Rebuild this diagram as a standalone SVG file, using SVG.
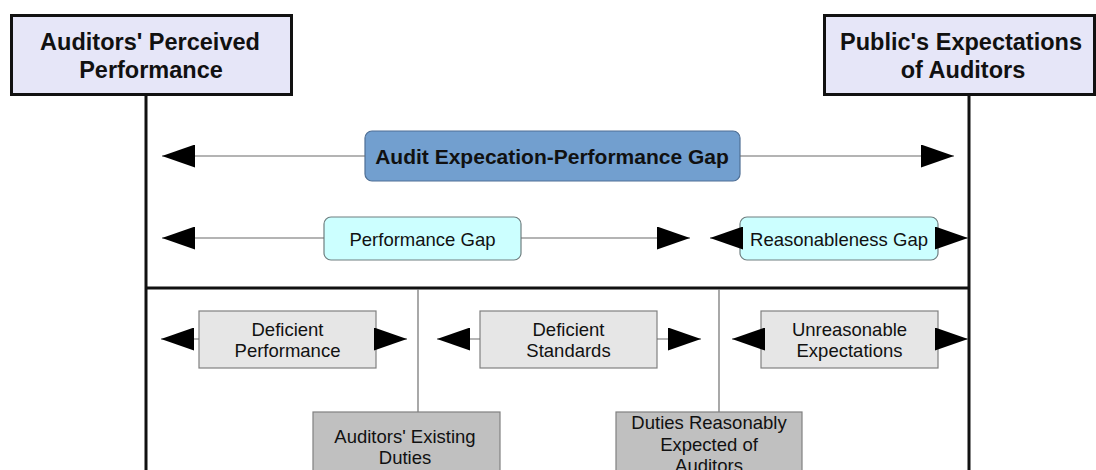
<svg xmlns="http://www.w3.org/2000/svg" width="1096" height="470" viewBox="0 0 1096 470">
<style>
text{font-family:"Liberation Sans",Arial,sans-serif;fill:#111;text-anchor:middle}
.title{font-size:23.5px;font-weight:bold}
.main{font-size:21px;font-weight:bold}
.lbl{font-size:18.5px}
.head{fill:#e6e6f8;stroke:#111;stroke-width:3}
.frame{stroke:#111;stroke-width:3;fill:none}
.div{stroke:#7a7a7a;stroke-width:1.3}
.conn{stroke:#6a6a6a;stroke-width:1.1;fill:none;marker-end:url(#ah)}
.gap{fill:#ccffff;stroke:#6f7f80;stroke-width:1.2}
.grey{fill:#e6e6e6;stroke:#808080;stroke-width:1.2}
.dark{fill:#c0c0c0;stroke:#808080;stroke-width:1.2}
</style>
<defs>
<marker id="ah" markerUnits="userSpaceOnUse" viewBox="0 0 33 23" refX="33" refY="11.5" markerWidth="33" markerHeight="23" orient="auto">
<path d="M0,0 L33,11.5 L0,23 z" fill="#000"/>
</marker>
</defs>
<rect width="1096" height="470" fill="#fff"/>
<g id="frame">
<line class="frame" x1="146" y1="96" x2="146" y2="472"/>
<line class="frame" x1="969" y1="96" x2="969" y2="472"/>
<line class="frame" x1="146" y1="288" x2="969" y2="288"/>
<line class="div" x1="418" y1="289" x2="418" y2="412"/>
<line class="div" x1="719" y1="289" x2="719" y2="412"/>
</g>
<g id="node-perceived">
<rect class="head" x="11.5" y="15.5" width="280" height="79"/>
<text class="title" x="150" y="50">Auditors' Perceived</text>
<text class="title" x="151" y="78">Performance</text>
</g>
<g id="node-expectations">
<rect class="head" x="824.5" y="15.5" width="270" height="79"/>
<text class="title" x="961" y="50">Public's Expectations</text>
<text class="title" x="963" y="78">of Auditors</text>
</g>
<g id="node-audit-gap">
<rect x="365" y="131" width="375" height="50" rx="7" fill="#729fcf" stroke="#4f6f95" stroke-width="1.2"/>
<text class="main" x="552" y="164">Audit Expecation-Performance Gap</text>
</g>
<g id="node-performance-gap">
<rect class="gap" x="324" y="217" width="197" height="43" rx="7"/>
<text class="lbl" x="422.5" y="246">Performance Gap</text>
</g>
<g id="node-reasonableness-gap">
<rect class="gap" x="740" y="217" width="198" height="43" rx="7"/>
<text class="lbl" x="839" y="246">Reasonableness Gap</text>
</g>
<g id="node-deficient-performance">
<rect class="grey" x="199" y="311" width="177" height="57"/>
<text class="lbl" x="287.5" y="336">Deficient</text>
<text class="lbl" x="287.5" y="357">Performance</text>
</g>
<g id="node-deficient-standards">
<rect class="grey" x="480" y="311" width="177" height="57"/>
<text class="lbl" x="568.5" y="336">Deficient</text>
<text class="lbl" x="568.5" y="357">Standards</text>
</g>
<g id="node-unreasonable">
<rect class="grey" x="761" y="311" width="177" height="57"/>
<text class="lbl" x="849.5" y="336">Unreasonable</text>
<text class="lbl" x="849.5" y="357">Expectations</text>
</g>
<g id="node-existing-duties">
<rect class="dark" x="313" y="412" width="187" height="70"/>
<text class="lbl" x="405" y="443">Auditors' Existing</text>
<text class="lbl" x="405" y="464">Duties</text>
</g>
<g id="node-reasonable-duties">
<rect class="dark" x="616" y="412" width="186" height="70"/>
<text class="lbl" x="709" y="429">Duties Reasonably</text>
<text class="lbl" x="709" y="450.5">Expected of</text>
<text class="lbl" x="709" y="472">Auditors</text>
</g>
<g id="connectors">
<line class="conn" x1="365" y1="156" x2="162" y2="156"/>
<line class="conn" x1="740" y1="156" x2="954" y2="156"/>
<line class="conn" x1="324" y1="238" x2="162" y2="238"/>
<line class="conn" x1="521" y1="238" x2="690" y2="238"/>
<line class="conn" x1="742" y1="238" x2="710" y2="238"/>
<line class="conn" x1="936" y1="238" x2="968" y2="238"/>
<line class="conn" x1="199" y1="339" x2="161" y2="339"/>
<line class="conn" x1="375" y1="339" x2="407" y2="339"/>
<line class="conn" x1="480" y1="339" x2="437" y2="339"/>
<line class="conn" x1="657" y1="339" x2="701" y2="339"/>
<line class="conn" x1="765" y1="339" x2="732" y2="339"/>
<line class="conn" x1="936" y1="339" x2="968" y2="339"/>
</g>
</svg>
